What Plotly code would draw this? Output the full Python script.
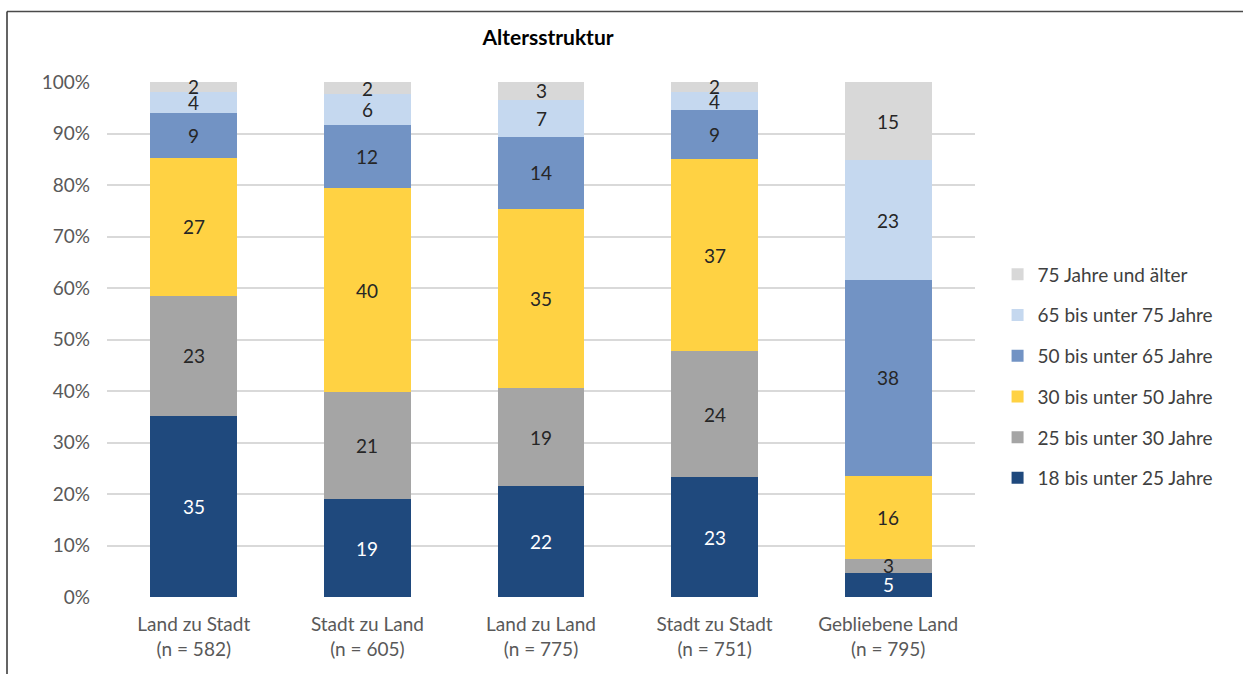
import plotly.graph_objects as go

categories = ["Land zu Stadt<br>(n = 582)", "Stadt zu Land<br>(n = 605)", "Land zu Land<br>(n = 775)",
              "Stadt zu Stadt<br>(n = 751)", "Gebliebene Land<br>(n = 795)"]

series_names = ["18 bis unter 25 Jahre", "25 bis unter 30 Jahre", "30 bis unter 50 Jahre",
                "50 bis unter 65 Jahre", "65 bis unter 75 Jahre", "75 Jahre und älter"]

age_18_25 = [35.2, 19.0, 21.6, 23.3, 4.7]
age_25_30 = [23.3, 20.8, 18.9, 24.4, 2.7]
age_30_50 = [26.7, 39.6, 34.9, 37.4, 16.1]
age_50_65 = [8.7, 12.3, 14.0, 9.4, 38.1]
age_65_75 = [4.2, 5.9, 7.2, 3.6, 23.2]
age_75_plus = [1.9, 2.4, 3.4, 1.9, 15.2]

series_values = [age_18_25, age_25_30, age_30_50, age_50_65, age_65_75, age_75_plus]
colors = ["#1F497D", "#A5A5A5", "#FFD243", "#7293C4", "#C5D8EF", "#D8D8D8"]
text_colors = ["#FFFFFF", "#262626", "#262626", "#262626", "#262626", "#262626"]

FONT = "Lato"

fig = go.Figure()
n_series = len(series_names)
for i, (name, vals, col) in enumerate(zip(series_names, series_values, colors)):
    fig.add_trace(go.Bar(
        x=categories, y=vals, name=name, legendgroup=name, legendrank=100 * (n_series - i),
        marker=dict(color=col, line=dict(width=0)),
        textposition="none", hoverinfo="x+y+name",
    ))

# data labels centred in each stacked segment
base = [0.0] * len(categories)
for name, vals, tcol in zip(series_names, series_values, text_colors):
    for cat, b, v in zip(categories, base, vals):
        fig.add_annotation(x=cat, y=b + v / 2, xref="x", yref="y", text=f"{v:.0f}",
                           showarrow=False, yshift=0,
                           font=dict(family=FONT, size=19, color=tcol))
    base = [b + v for b, v in zip(base, vals)]

fig.update_layout(
    barmode="stack", bargap=0.5,
    width=1243, height=674,
    margin=dict(l=107, r=268, t=82, b=77),
    paper_bgcolor="white", plot_bgcolor="white",
    font=dict(family=FONT, size=19, color="#595959"),
    title=dict(text="<b>Altersstruktur</b>", font=dict(family=FONT, size=21, color="#000000"),
               xref="container", x=548/1243, xanchor="center",
               yref="container", y=1-38/674, yanchor="middle"),
    legend=dict(traceorder="grouped", x=1.026, xanchor="left", y=(597-376.5)/515,
                yanchor="middle", font=dict(family=FONT, size=19, color="#404040"),
                tracegroupgap=13, itemclick=False),
    showlegend=True,
)
fig.update_yaxes(range=[0, 100], dtick=10, ticksuffix="%", showgrid=True, gridcolor="#D9D9D9",
                 gridwidth=1.5, zeroline=False, showline=False, ticklabelstandoff=16,
                 tickfont=dict(family=FONT, size=19, color="#595959"))
fig.update_xaxes(showline=False, showgrid=False, ticklabelstandoff=14,
                 tickfont=dict(family=FONT, size=19, color="#595959"))

# chart border (top and left edges visible in reference)
fig.add_shape(type="line", xref="paper", yref="paper", x0=(7-107)/868, x1=(1243-107)/868,
              y0=(597-11.5)/515, y1=(597-11.5)/515, line=dict(color="#4a4a4a", width=1.5))
fig.add_shape(type="line", xref="paper", yref="paper", x0=(7-107)/868, x1=(7-107)/868,
              y0=(597-11.5)/515, y1=(597-680)/515, line=dict(color="#303030", width=1.5))

fig.write_html("out.html")
